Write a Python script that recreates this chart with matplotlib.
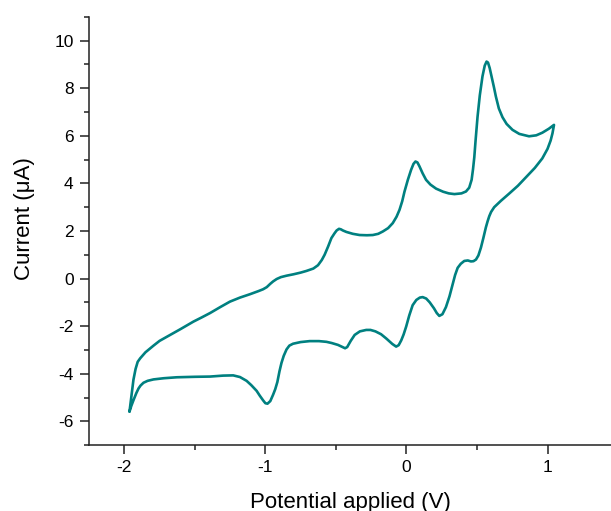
import numpy as np
import matplotlib.pyplot as plt
from matplotlib.ticker import MultipleLocator

plt.rcParams['font.family'] = ['Liberation Sans', 'DejaVu Sans']
plt.rcParams['axes.unicode_minus'] = False

# anodic sweep (upper branch), from the negative vertex to the positive vertex
fwd_potential = [-1.963, -1.950, -1.935, -1.920, -1.905, -1.887, -1.850, -1.793, -1.750,
                 -1.675, -1.600, -1.510, -1.450, -1.392, -1.320, -1.251, -1.180, -1.110,
                 -1.050, -1.016, -0.990, -0.965, -0.945, -0.920, -0.890, -0.850, -0.800,
                 -0.750, -0.709, -0.660, -0.627, -0.600, -0.580, -0.555, -0.532, -0.510,
                 -0.495, -0.478, -0.465, -0.450, -0.426, -0.380, -0.332, -0.280, -0.238,
                 -0.200, -0.167, -0.130, -0.097, -0.070, -0.049, -0.030, -0.014, 0.010,
                 0.033, 0.050, 0.064, 0.078, 0.092, 0.115, 0.139, 0.170, 0.210, 0.260,
                 0.300, 0.340, 0.390, 0.422, 0.445, 0.462, 0.472, 0.481, 0.490, 0.504,
                 0.520, 0.539, 0.555, 0.568, 0.578, 0.590, 0.605, 0.620, 0.634, 0.655,
                 0.681, 0.710, 0.752, 0.800, 0.869, 0.920, 0.963, 1.010, 1.046]
fwd_current = [-5.59, -4.95, -4.25, -3.80, -3.50, -3.35, -3.10, -2.82, -2.62,
               -2.37, -2.12, -1.81, -1.63, -1.45, -1.20, -0.97, -0.80, -0.66,
               -0.53, -0.45, -0.36, -0.22, -0.12, -0.02, 0.06, 0.12, 0.18,
               0.25, 0.32, 0.42, 0.56, 0.78, 1.00, 1.35, 1.70, 1.90,
               2.02, 2.09, 2.07, 2.02, 1.96, 1.88, 1.83, 1.82, 1.83,
               1.88, 1.98, 2.12, 2.33, 2.60, 2.89, 3.25, 3.65, 4.15,
               4.57, 4.82, 4.92, 4.88, 4.72, 4.42, 4.15, 3.95, 3.78, 3.65,
               3.58, 3.55, 3.58, 3.66, 3.82, 4.15, 4.60, 5.10, 5.80, 6.80,
               7.70, 8.50, 8.95, 9.12, 9.08, 8.85, 8.45, 8.05, 7.65, 7.15,
               6.78, 6.50, 6.25, 6.08, 5.98, 6.02, 6.13, 6.30, 6.46]

# cathodic sweep (lower branch), back from the positive vertex
rev_potential = [1.046, 1.035, 1.022, 1.000, 0.963, 0.910, 0.846, 0.790, 0.728, 0.670,
                 0.622, 0.600, 0.587, 0.575, 0.563, 0.545, 0.528, 0.510, 0.493, 0.475,
                 0.457, 0.435, 0.410, 0.385, 0.363, 0.345, 0.327, 0.305, 0.280, 0.255,
                 0.233, 0.215, 0.195, 0.165, 0.140, 0.115, 0.095, 0.070, 0.044, 0.020,
                 -0.002, -0.020, -0.037, -0.055, -0.073, -0.100, -0.143, -0.180, -0.220,
                 -0.255, -0.285, -0.330, -0.367, -0.395, -0.420, -0.435, -0.460, -0.485,
                 -0.530, -0.567, -0.620, -0.686, -0.750, -0.804, -0.830, -0.850, -0.870,
                 -0.886, -0.900, -0.915, -0.930, -0.945, -0.965, -0.985, -1.000, -1.016,
                 -1.040, -1.062, -1.100, -1.133, -1.180, -1.228, -1.300, -1.392, -1.500,
                 -1.628, -1.720, -1.793, -1.835, -1.864, -1.885, -1.899, -1.915, -1.934,
                 -1.950, -1.963]
rev_current = [6.46, 6.10, 5.80, 5.45, 5.05, 4.65, 4.25, 3.90, 3.57, 3.27,
               3.00, 2.80, 2.62, 2.40, 2.15, 1.70, 1.30, 0.97, 0.80, 0.73,
               0.72, 0.76, 0.74, 0.62, 0.45, 0.15, -0.25, -0.75, -1.20, -1.50,
               -1.57, -1.45, -1.25, -1.00, -0.84, -0.78, -0.80, -0.90, -1.12, -1.55,
               -2.02, -2.35, -2.60, -2.80, -2.86, -2.75, -2.52, -2.34, -2.22,
               -2.16, -2.16, -2.22, -2.37, -2.62, -2.88, -2.93, -2.86, -2.79,
               -2.71, -2.66, -2.63, -2.63, -2.67, -2.74, -2.82, -2.98, -3.25,
               -3.55, -3.90, -4.35, -4.65, -4.88, -5.15, -5.26, -5.24, -5.12,
               -4.92, -4.72, -4.48, -4.30, -4.14, -4.07, -4.08, -4.12, -4.13,
               -4.15, -4.19, -4.24, -4.30, -4.38, -4.50, -4.62, -4.82, -5.10,
               -5.35, -5.59]

potential = fwd_potential + rev_potential
current = fwd_current + rev_current

fig = plt.figure(figsize=(6.11, 5.11), dpi=100)
ax = fig.add_axes([0.1457, 0.129, 0.8543, 0.838])

ax.plot(potential, current, color='#008080', lw=1.9,
        solid_joinstyle='round', solid_capstyle='round')

ax.set_xlim(-2.25, 1.45)
ax.set_ylim(-7, 11)
ax.xaxis.set_major_locator(MultipleLocator(1))
ax.xaxis.set_minor_locator(MultipleLocator(0.5))
ax.yaxis.set_minor_locator(MultipleLocator(1))
ax.set_yticks([-6, -4, -2, 0, 2, 4, 6, 8, 10])

for side in ['top', 'right']:
    ax.spines[side].set_visible(False)
for side in ['left', 'bottom']:
    ax.spines[side].set_linewidth(1.1)
    ax.spines[side].set_color('#222222')

ax.tick_params(which='major', direction='out', length=6.5, width=1.1,
               colors='#222222', labelsize=12.5, pad=4.5, labelcolor='black')
ax.tick_params(which='minor', direction='out', length=3.6, width=1.1, colors='#222222')

ax.set_xlabel('Potential applied (V)', fontsize=16, labelpad=12)
ax.set_ylabel('Current (\u03bcA)', fontsize=16)
ax.yaxis.set_label_coords(-0.104, 0.53)

fig.savefig('out.png', dpi=100)
